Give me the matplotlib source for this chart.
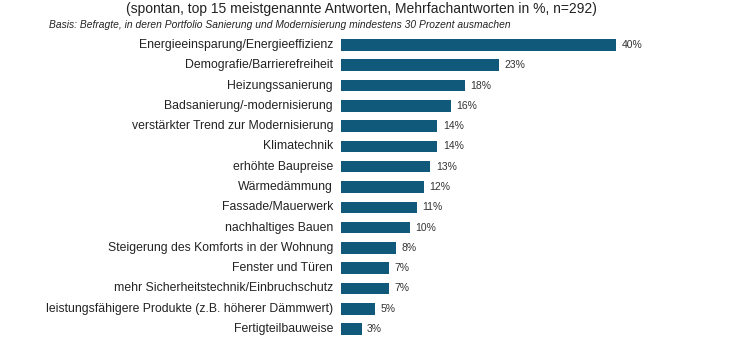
import matplotlib.pyplot as plt

# Data
categories = [
    "Energieeinsparung/Energieeffizienz",
    "Demografie/Barrierefreiheit",
    "Heizungssanierung",
    "Badsanierung/-modernisierung",
    "verstärkter Trend zur Modernisierung",
    "Klimatechnik",
    "erhöhte Baupreise",
    "Wärmedämmung",
    "Fassade/Mauerwerk",
    "nachhaltiges Bauen",
    "Steigerung des Komforts in der Wohnung",
    "Fenster und Türen",
    "mehr Sicherheitstechnik/Einbruchschutz",
    "leistungsfähigere Produkte (z.B. höherer Dämmwert)",
    "Fertigteilbauweise",
]
values = [40, 23, 18, 16, 14, 14, 13, 12, 11, 10, 8, 7, 7, 5, 3]
value_labels = [f"{v}%" for v in values]

title = "(spontan, top 15 meistgenannte Antworten, Mehrfachantworten in %, n=292)"
basis = "Basis: Befragte, in deren Portfolio Sanierung und Modernisierung mindestens 30 Prozent ausmachen"

plt.rcParams['font.family'] = ['Liberation Sans', 'DejaVu Sans']

W, H = 730, 340
fig = plt.figure(figsize=(W / 100, H / 100), dpi=100)
fig.patch.set_facecolor('white')

# axes placed so bars start at x=341px and 40% ends at x=616px
ax = fig.add_axes([341 / W, 0.85 / H, 275 / W, 304.3 / H])
ypos = list(range(len(categories)))
ax.barh(ypos, values, height=0.57, color='#10597a')
ax.set_xlim(0, 40)
ax.set_ylim(len(categories) - 0.5, -0.5)
ax.axis('off')

for y, v, lab, cat in zip(ypos, values, value_labels, categories):
    ax.text(v + 0.8, y, lab, va='center', ha='left', fontsize=7.5, color='#333333')
    ax.text(-1.15, y, cat, va='center', ha='right', fontsize=8.8, color='#222222')

fig.text(361 / W, 1 - 9 / H, title, ha='center', va='center', fontsize=10, color='#222222')
fig.text(49 / W, 1 - 25 / H, basis, ha='left', va='center', fontsize=7.4,
         style='italic', color='#222222')

fig.savefig('out.png', dpi=100)
